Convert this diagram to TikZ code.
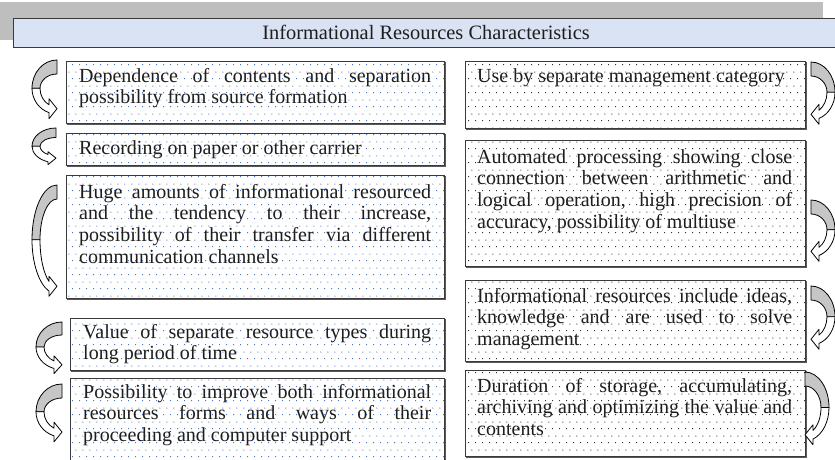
\documentclass[tikz,border=0pt]{standalone}
\usepackage{fontspec}
\setmainfont{Liberation Serif}
\usetikzlibrary{patterns.meta}

\definecolor{dotblue}{HTML}{3A6BC4}
\definecolor{dotblack}{HTML}{202020}
\definecolor{titleblue}{HTML}{DAE3F3}
\definecolor{shadegray}{HTML}{BEBEBE}
\definecolor{arrgray}{HTML}{C6C6C6}
\definecolor{edge}{HTML}{3A3A3A}
\definecolor{ink}{HTML}{1E1E1E}

\pgfdeclarepattern{
  name=stagdots,
  type=uncolored,
  bottom left={\pgfpoint{0pt}{0pt}},
  top right={\pgfpoint{7.2pt}{14pt}},
  tile size={\pgfpoint{7.2pt}{14pt}},
  code={
    \pgfpathcircle{\pgfpoint{1.8pt}{3.5pt}}{0.65pt}
    \pgfpathcircle{\pgfpoint{5.4pt}{10.5pt}}{0.65pt}
    \pgfusepath{fill}
  }
}

\newcommand{\jline}[1]{\hbox to \hsize{\spaceskip=0.25em plus 1fil\relax #1}}
\newcommand{\lastline}[1]{\hbox to \hsize{#1\hfil}}

% curved arrow: #1 x anchor, #2 y bottom (pixels, y down), #3 width, #4 height, #5 direction (1 or -1)
\newcommand{\curvarr}[5]{%
\begin{scope}[shift={(#1,#2)}, y=1pt, xscale=#5]
  \pgfmathsetmacro\cvW{#3}
  \pgfmathsetmacro\cvH{#4}
  \pgfmathsetmacro\cvYc{\cvH*0.52}
  \pgfmathsetmacro\cvTx{8}
  \pgfmathsetmacro\cvG{min(14,0.25*\cvH)}
  \pgfmathsetmacro\cvTy{min(7,0.2*\cvH)}
  \pgfmathsetmacro\cvHh{min(10,0.17*\cvH)}
  \pgfmathsetmacro\cvHl{8}
  \pgfmathsetmacro\cvRyo{\cvH-\cvYc}
  \pgfmathsetmacro\cvRyi{\cvRyo-\cvG}
  \pgfmathsetmacro\cvRylo{\cvYc-0.5*\cvHh}
  \pgfmathsetmacro\cvRyli{\cvRylo-\cvTy}
  \pgfmathsetmacro\cvWi{\cvW-\cvTx}
  \pgfmathsetmacro\cvAo{acos(\cvHl/\cvW)}
  \pgfmathsetmacro\cvAi{acos(\cvHl/\cvWi)}
  \pgfmathsetmacro\cvYa{\cvYc-\cvRylo*sin(\cvAo)}
  \pgfmathsetmacro\cvYb{\cvYc-\cvRyli*sin(\cvAi)}
  \pgfmathsetmacro\cvMid{(\cvYa+\cvYb)/2}
  \pgfmathsetmacro\cvHx{\cvW-\cvHl}
  \draw[arrback] (\cvW,\cvH)
    arc[start angle=90,end angle=180,x radius=\cvW,y radius=\cvRyo]
    -- (\cvTx,\cvYc)
    arc[start angle=180,end angle=90,x radius=\cvWi,y radius=\cvRyi] -- cycle;
  \draw[arrfront] (0,\cvYc)
    arc[start angle=180,end angle={180+\cvAo},x radius=\cvW,y radius=\cvRylo]
    -- (\cvHx,{\cvMid-\cvHh}) -- (\cvW,\cvMid) -- (\cvHx,{\cvMid+\cvHh}) -- (\cvHx,\cvYb)
    arc[start angle={180+\cvAi},end angle=180,x radius=\cvWi,y radius=\cvRyli] -- cycle;
\end{scope}}

\begin{document}
\begin{tikzpicture}[x=1pt,y=-1pt,
  boxbase/.style={draw=edge, line width=1.1pt, inner sep=0pt, anchor=north west,
     preaction={draw=black!65, line width=1.1pt, transform canvas={xshift=1.2pt, yshift=-1.2pt}},
     preaction={fill=white}, pattern=stagdots},
  lbox/.style={boxbase, pattern color=dotblue},
  rbox/.style={boxbase, pattern color=dotblack},
  txt/.style={anchor=base west, inner sep=0pt, text=ink,
     font=\fontsize{20pt}{21.7pt}\selectfont\frenchspacing},
  arrback/.style={fill=arrgray, draw=black, line width=0.8pt, line join=round},
  arrfront/.style={fill=white, draw=black, line width=0.8pt, line join=round}
]
\useasboundingbox (0,0) rectangle (835,460);
\clip (0,0) rectangle (835,460);

% title banner
\node[fill=shadegray, minimum width=823pt, minimum height=38pt, anchor=north west, inner sep=0pt] (shade) at (0,2) {};
\node[draw=edge, line width=0.9pt, fill=titleblue, minimum width=830pt, minimum height=29pt, anchor=north west, inner sep=0pt] (titlebox) at (13,18) {};
\node[text=ink, font=\fontsize{20.4pt}{24pt}\selectfont, inner sep=0pt] (title) at (426,32.5) {Informational Resources Characteristics};

% left column boxes
\node[lbox, minimum width=378pt, minimum height=62pt] (b1) at (66,61) {};
\node[lbox, minimum width=378pt, minimum height=32pt] (b2) at (66,133) {};
\node[lbox, minimum width=378pt, minimum height=123pt] (b3) at (66,175) {};
\node[lbox, minimum width=374pt, minimum height=52pt] (b4) at (70,318) {};
\node[lbox, minimum width=374pt, minimum height=100pt] (b5) at (70,378) {};

% right column boxes
\node[rbox, minimum width=340pt, minimum height=67pt] (r1) at (465,61) {};
\node[rbox, minimum width=340pt, minimum height=126pt] (r2) at (465,140) {};
\node[rbox, minimum width=340pt, minimum height=81pt] (r3) at (465,280) {};
\node[rbox, minimum width=340pt, minimum height=86pt] (r4) at (465,370) {};

% left texts
\node[txt] (t1) at (79,82) {\vtop{\hsize=352pt
  \jline{Dependence of contents and separation}
  \lastline{possibility from source formation}}};
\node[txt] (t2) at (79,154) {\vtop{\hsize=352pt
  \lastline{Recording on paper or other carrier}}};
\node[txt] (t3) at (79,198) {\vtop{\hsize=352pt
  \jline{Huge amounts of informational resourced}
  \jline{and the tendency to their increase,}
  \jline{possibility of their transfer via different}
  \lastline{communication channels}}};
\node[txt] (t4) at (83,338) {\vtop{\hsize=348pt
  \jline{Value of separate resource types during}
  \lastline{long period of time}}};
\node[txt] (t5) at (83,398) {\vtop{\hsize=348pt
  \jline{Possibility to improve both informational}
  \jline{resources forms and ways of their}
  \lastline{proceeding and computer support}}};

% right texts
\node[txt] (s1) at (477,82) {\vtop{\hsize=315pt
  \lastline{Use by separate management category}}};
\node[txt] (s2) at (477,163) {\vtop{\hsize=315pt
  \jline{Automated processing showing close}
  \jline{connection between arithmetic and}
  \jline{logical operation, high precision of}
  \lastline{accuracy, possibility of multiuse}}};
\node[txt] (s3) at (477,302) {\vtop{\hsize=315pt
  \jline{Informational resources include ideas,}
  \jline{knowledge and are used to solve}
  \lastline{management}}};
\node[txt] (s4) at (477,392) {\vtop{\hsize=315pt
  \jline{Duration of storage, accumulating,}
  \jline{archiving and optimizing the value and}
  \lastline{contents}}};

% curved arrows, left side
\curvarr{32}{119}{25}{59}{1}
\curvarr{32}{166}{24}{38}{1}
\curvarr{32}{299}{25}{114}{1}
\curvarr{36}{374}{26}{52}{1}
\curvarr{36}{442}{26}{58}{1}
% curved arrows, right side
\curvarr{835}{125}{24}{63}{-1}
\curvarr{835}{262}{24}{62}{-1}
\curvarr{835}{350}{24}{64}{-1}
\curvarr{829}{446}{24}{74}{-1}
\end{tikzpicture}
\end{document}
